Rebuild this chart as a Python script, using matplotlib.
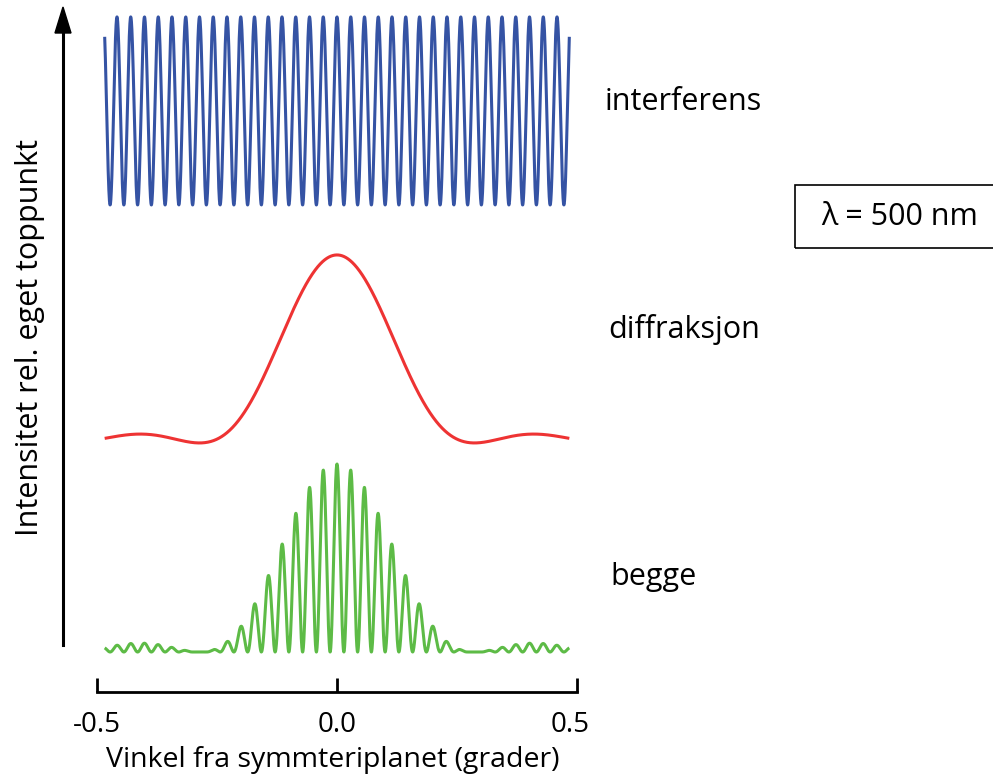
import numpy as np
import matplotlib.pyplot as plt
from matplotlib.patches import Rectangle
from matplotlib.transforms import ScaledTranslation

# physical parameters
wavelength_nm = 500.0
slit_width_mm = 0.1       # first diffraction minimum near 0.29 deg
slit_spacing_mm = 1.0     # interference period about 0.0286 deg
angle_range_deg = [-0.484, 0.484]
n_samples = 4000

curve_names = ["interferens", "diffraksjon", "begge"]
curve_colors = ["#3553a4", "#ee3333", "#5dbb46"]
curve_offsets = [2.378, 1.112, 0.0]
xticks = [-0.5, 0.0, 0.5]
xtick_labels = ["-0.5", "0.0", "0.5"]

theta = np.linspace(angle_range_deg[0], angle_range_deg[1], n_samples)
s = np.sin(np.radians(theta))
lam_mm = wavelength_nm * 1e-6
interf = np.cos(np.pi * slit_spacing_mm * s / lam_mm) ** 2
beta = np.pi * slit_width_mm * s / lam_mm
diffr = np.sinc(beta / np.pi) ** 2
both = interf * diffr
curves = [interf, diffr, both]

plt.rcParams['font.family'] = ['Open Sans', 'DejaVu Sans']

W, H = 993, 775
fig = plt.figure(figsize=(W / 100, H / 100), dpi=100)
ax = fig.add_axes([97 / W, 0, 480 / W, 1])
ax.set_xlim(-0.5, 0.5)
ax.set_ylim((652 - 775) / 188, 652 / 188)

for y, off, c in zip(curves, curve_offsets, curve_colors):
    ax.plot(theta, y + off, color=c, lw=2.2, solid_capstyle='butt')

# axis styling: only a bottom line with upward ticks
for sp in ["top", "right", "left"]:
    ax.spines[sp].set_visible(False)
ax.spines["bottom"].set_position(("data", (652 - 692) / 188))
ax.spines["bottom"].set_linewidth(2.0)
ax.spines["bottom"].set_capstyle("projecting")
ax.set_yticks([])
ax.set_xticks(xticks)
ax.set_xticklabels(xtick_labels, fontsize=20)
ax.tick_params(axis="x", direction="in", length=10, width=2.0, pad=14)
ax.patch.set_visible(False)
# the 0.5 label sits a little left of its tick in the original
last = ax.get_xticklabels()[-1]
last.set_transform(last.get_transform() + ScaledTranslation(-7 / 100, 0, fig.dpi_scale_trans))

fig.text(333 / W, 1 - 760 / H, "Vinkel fra symmteriplanet (grader)",
         ha="center", va="center", fontsize=20.5)
fig.text(30 / W, 1 - 338 / H, "Intensitet rel. eget toppunkt",
         ha="center", va="center", rotation=90, fontsize=22)

# vertical arrow
fig.add_artist(plt.Line2D([63 / W, 63 / W], [1 - 645 / H, 1 - 30 / H],
                          color="black", lw=2.2))
fig.patches.append(plt.Polygon([[55 / W, 1 - 33 / H], [71 / W, 1 - 33 / H],
                                [63 / W, 1 - 7 / H]], closed=True,
                               color="black", transform=fig.transFigure))

label_pos = [(605, 102), (608, 329), (610, 577)]
for name, (px, py) in zip(curve_names, label_pos):
    fig.text(px / W, 1 - py / H, name, ha="left", va="center", fontsize=22)

fig.patches.append(Rectangle((795 / W, 1 - 248 / H), 210 / W, 63 / H,
                             fill=False, lw=1.2, edgecolor="black",
                             transform=fig.transFigure))
fig.text(900 / W, 1 - 217 / H, "λ = %d nm" % wavelength_nm,
         ha="center", va="center", fontsize=22)

fig.savefig("out.png", dpi=100)
